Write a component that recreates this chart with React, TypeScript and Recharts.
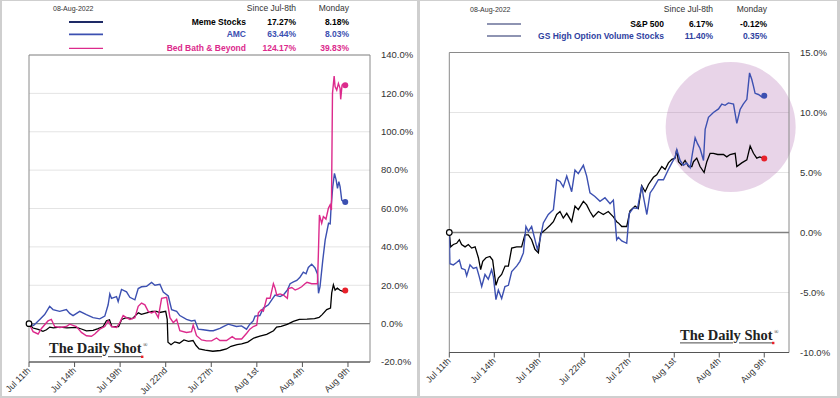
import React from "react";
import {
  LineChart,
  Line,
  XAxis,
  YAxis,
  CartesianGrid,
  ReferenceLine,
  ReferenceDot,
  ReferenceArea,
} from "recharts";

// x = trading-day index since Jul 11th (intraday points)
const tickDays = [0, 3, 6, 9, 12, 15, 18, 21];
const tickLabels = ["Jul 11th", "Jul 14th", "Jul 19th", "Jul 22nd", "Jul 27th", "Aug 1st", "Aug 4th", "Aug 9th"];
const leftYTicks = [-20, 0, 20, 40, 60, 80, 100, 120, 140];
const rightYTicks = [-10, -5, 0, 5, 10, 15];

// left panel: % change since Jul-8th
const memeStocks: [number, number][] = [
  [0, 0], [0.26, -2.3], [0.6, -3.0], [0.92, -4.0], [1.15, -3.2], [1.37, -1.8], [1.6, -2.2], [2.03, -1.8],
  [2.5, -2.2], [3.12, -2.0], [3.45, -2.8], [3.78, -3.8], [4.22, -3.5], [4.55, -2.6], [4.88, -1.5], [5.1, 1.5],
  [5.3, 2.0], [5.45, -1.5], [5.9, -1.6], [6.1, 2.2], [6.4, 3.1], [6.8, 2.6], [7.2, 5.6], [7.4, 4.8],
  [7.75, 5.6], [8.1, 6.4], [8.4, 6.4], [8.6, 5.8], [9.0, 6.4], [9.1, 2.2], [9.15, -9.7], [9.35, -11.0],
  [9.6, -9.5], [9.9, -10.2], [10.2, -8.5], [10.5, -9.2], [10.8, -8.8], [11.0, -11.4], [11.2, -13.2],
  [11.6, -13.8], [12.1, -14.4], [12.6, -14.0], [13.0, -13.2], [13.3, -11.8], [13.7, -11.0], [14.0, -10.6],
  [14.4, -9.6], [14.8, -7.5], [15.2, -6.5], [15.65, -5.6], [16.1, -3.7], [16.3, -1.8], [16.6, -1.4],
  [17.0, -0.4], [17.4, 1.2], [17.8, 2.2], [18.3, 2.3], [18.8, 2.6], [19.1, 3.2], [19.3, 4.7], [19.6, 7.3],
  [19.85, 8.1], [19.93, 16.0], [20.04, 20.2], [20.15, 17.5], [20.3, 18.5], [20.48, 17.4], [20.65, 16.8],
  [20.82, 17.27],
];

const amc: [number, number][] = [
  [0, 0], [0.3, -1.0], [0.71, 2.2], [1.03, 4.7], [1.36, 9.0], [1.58, 7.3], [2.02, 6.4], [2.46, 7.3],
  [2.68, 5.3], [2.9, 4.2], [3.34, 6.4], [3.78, 4.7], [4.22, 3.1], [4.66, 2.5], [4.99, 3.9], [5.21, 9.8],
  [5.32, 15.5], [5.43, 13.2], [5.76, 14.1], [5.87, 11.5], [6.09, 17.8], [6.42, 16.6], [6.64, 13.7],
  [6.97, 12.4], [7.19, 18.3], [7.41, 19.2], [7.74, 19.5], [8.07, 21.5], [8.29, 20.0], [8.62, 20.5],
  [8.84, 16.5], [9.17, 14.4], [9.39, 7.3], [9.72, 6.4], [9.93, 4.2], [10.37, 2.2], [10.7, 1.4],
  [10.92, 1.7], [11.14, -2.9], [11.47, -3.2], [11.91, -3.7], [12.13, -3.7], [12.57, -2.5], [12.79, -1.6],
  [13.12, -0.3], [13.34, -0.8], [13.66, -1.5], [13.99, -1.2], [14.32, -2.9], [14.54, -0.3], [14.76, 1.4],
  [14.88, 3.9], [15.2, 4.2], [15.43, 8.1], [15.76, 9.8], [15.98, 12.4], [16.2, 14.9], [16.53, 14.1],
  [16.75, 15.0], [17.01, 17.5], [17.19, 20.8], [17.41, 21.7], [17.63, 22.5], [17.84, 24.2], [18.06, 26.8],
  [18.24, 26.0], [18.39, 29.3], [18.61, 31.0], [18.83, 29.0], [18.99, 25.9], [19.06, 15.8], [19.16, 19.3],
  [19.34, 33.0], [19.5, 43.6], [19.72, 52.3], [19.83, 52.0], [19.89, 61.0], [20.0, 71.4], [20.11, 78.3],
  [20.22, 74.9], [20.31, 70.5], [20.4, 74.0], [20.48, 71.4], [20.59, 64.4], [20.7, 63.6], [20.82, 63.44],
];

const bedBath: [number, number][] = [
  [0, 0], [0.27, -4.2], [0.6, -5.4], [0.82, -2.5], [1.25, 1.4], [1.47, 2.2], [1.69, -1.5], [2.02, -2.0],
  [2.46, -1.5], [2.68, -0.3], [3.12, -1.5], [3.45, -4.6], [3.78, -6.3], [4.11, -6.6], [4.33, -5.4],
  [4.66, -2.9], [4.99, -1.5], [5.21, 1.4], [5.43, -1.5], [5.76, -2.0], [5.98, 0.5], [6.2, 4.2], [6.42, 3.1],
  [6.64, 2.2], [6.97, 3.1], [7.19, 9.0], [7.41, 10.7], [7.63, 9.8], [7.85, 6.4], [8.07, 5.6], [8.29, 6.4],
  [8.51, 3.1], [8.73, 13.2], [9.06, 13.7], [9.28, 3.1], [9.5, 0.5], [9.72, 2.2], [9.93, -3.7], [10.37, -4.6],
  [10.7, -4.2], [10.81, -0.8], [11.03, -6.3], [11.36, -8.5], [11.69, -9.0], [12.02, -9.0], [12.35, -7.5],
  [12.57, -8.8], [13.0, -8.8], [13.38, -6.8], [13.6, -8.0], [14.0, -8.0], [14.33, -5.0], [14.54, -2.9],
  [14.77, -1.5], [14.99, -0.8], [15.1, 5.6], [15.3, 7.3], [15.43, 6.5], [15.65, 13.2], [15.87, 13.2],
  [16.09, 20.8], [16.2, 18.5], [16.31, 14.9], [16.53, 15.5], [16.75, 14.9], [17.01, 13.2], [17.08, 18.3],
  [17.3, 18.8], [17.52, 17.5], [17.74, 18.3], [17.95, 19.2], [18.17, 20.8], [18.3, 21.5], [18.61, 20.8],
  [18.99, 20.8], [19.05, 36.0], [19.12, 56.6], [19.27, 52.3], [19.38, 55.8], [19.55, 54.5], [19.71, 60.1],
  [19.82, 61.8], [19.91, 59.2], [19.98, 120.0], [20.09, 129.0], [20.15, 123.5], [20.26, 121.7],
  [20.37, 125.2], [20.48, 122.6], [20.52, 116.9], [20.61, 124.3], [20.7, 124.9], [20.82, 124.17],
];

// right panel
const sp500: [number, number][] = [
  [0, 0], [0.09, -1.2], [0.27, -1.0], [0.49, -0.9], [0.67, -0.6], [0.82, -1.0], [1.05, -1.2], [1.27, -1.0],
  [1.49, -1.3], [1.72, -1.2], [1.94, -2.1], [2.09, -3.1], [2.23, -2.4], [2.45, -2.1], [2.71, -2.0],
  [2.89, -2.3], [3.11, -4.4], [3.27, -3.8], [3.49, -3.5], [3.72, -2.8], [3.94, -2.8], [4.16, -1.3],
  [4.49, -1.2], [4.82, -1.2], [5.04, -0.2], [5.27, -0.2], [5.49, -0.6], [5.71, -1.4], [5.94, -1.7],
  [6.09, -0.1], [6.38, 0.2], [6.72, 0.6], [6.94, 0.9], [7.16, 1.5], [7.38, 1.75], [7.6, 1.2], [7.83, 1.6],
  [8.16, 0.9], [8.38, 2.2], [8.6, 1.9], [8.94, 2.6], [9.16, 2.3], [9.38, 1.75], [9.6, 1.3], [9.94, 1.75],
  [10.27, 1.5], [10.6, 1.75], [10.94, 1.3], [11.16, 0.9], [11.27, 0.8], [11.5, 0.5], [11.83, 0.5],
  [12.05, 1.8], [12.39, 2.2], [12.6, 2.0], [12.83, 3.9], [13.06, 3.4], [13.28, 4.0], [13.61, 4.6],
  [13.83, 4.8], [14.17, 5.5], [14.39, 5.25], [14.61, 5.8], [14.84, 6.1], [15.06, 6.2], [15.16, 6.9],
  [15.28, 5.9], [15.5, 5.6], [15.72, 6.0], [15.95, 5.5], [16.17, 5.5], [16.28, 5.9], [16.5, 6.2],
  [16.72, 5.5], [16.99, 5.0], [17.17, 5.9], [17.39, 6.6], [17.61, 6.6], [17.9, 6.5], [18.28, 6.5],
  [18.5, 6.3], [18.72, 6.5], [19.06, 6.6], [19.17, 5.5], [19.5, 5.8], [19.84, 6.05], [20.06, 7.2],
  [20.28, 6.6], [20.5, 6.2], [20.7, 6.3], [21, 6.17],
];

const gsHighOption: [number, number][] = [
  [0, 0], [0.04, -2.6], [0.27, -2.7], [0.49, -2.5], [0.67, -2.3], [0.82, -3.0], [1.05, -3.1], [1.16, -3.6],
  [1.38, -2.7], [1.6, -3.0], [1.82, -2.9], [2.0, -3.7], [2.16, -4.5], [2.38, -3.5], [2.6, -3.9], [2.82, -3.1],
  [2.94, -3.7], [3.11, -5.6], [3.27, -4.8], [3.49, -5.5], [3.71, -4.5], [3.94, -4.4], [4.16, -3.25],
  [4.49, -2.8], [4.71, -2.4], [4.94, -1.7], [5.11, 0.5], [5.27, 0.1], [5.49, 0.5], [5.71, -0.6],
  [5.87, -1.4], [6.05, -0.6], [6.27, 0.8], [6.6, 1.5], [6.94, 1.9], [7.16, 4.4], [7.38, 4.25], [7.6, 3.8],
  [7.83, 4.7], [8.16, 3.4], [8.38, 5.2], [8.6, 4.9], [8.94, 5.6], [9.16, 4.7], [9.38, 3.3], [9.71, 3.0],
  [10.05, 2.6], [10.38, 2.9], [10.72, 2.4], [10.94, 2.7], [11.16, -0.6], [11.27, -0.4], [11.5, -0.7],
  [11.83, -0.9], [12.0, 1.6], [12.28, 2.05], [12.55, 2.0], [12.83, 3.9], [12.94, 3.0], [13.17, 1.5],
  [13.39, 3.3], [13.61, 3.7], [13.94, 4.4], [14.28, 4.4], [14.61, 5.25], [14.84, 5.8], [15.06, 6.3],
  [15.17, 6.9], [15.39, 6.0], [15.61, 5.6], [15.83, 5.8], [16.06, 5.4], [16.2, 6.5], [16.39, 7.9],
  [16.55, 7.4], [16.72, 7.0], [16.95, 6.0], [17.06, 8.6], [17.28, 9.6], [17.61, 10.0], [17.95, 10.3],
  [18.17, 10.7], [18.39, 10.6], [18.61, 10.8], [18.95, 10.7], [19.17, 9.1], [19.39, 10.25], [19.6, 10.7],
  [19.84, 11.1], [20.02, 13.3], [20.17, 12.75], [20.28, 12.2], [20.39, 11.6], [20.61, 11.5], [20.84, 11.3],
  [21, 11.4],
];

// legend tables
const leftLegend = [
  { name: "Meme Stocks", since: "17.27%", monday: "8.18%", text: "#000000", line: "#1e2a66", w: 2 },
  { name: "AMC", since: "63.44%", monday: "8.03%", text: "#3c50b1", line: "#3c50b1", w: 1.8 },
  { name: "Bed Bath & Beyond", since: "124.17%", monday: "39.83%", text: "#dc2a8c", line: "#dc2a8c", w: 1.2 },
];
const rightLegend = [
  { name: "S&P 500", since: "6.17%", monday: "-0.12%", text: "#000000", line: "#1e2a66", w: 1.1 },
  { name: "GS High Option Volume Stocks", since: "11.40%", monday: "0.35%", text: "#2f3f9f", line: "#1e2a66", w: 1.1 },
];

const BLUE = "#3c50b1";
const MAGENTA = "#dc2a8c";
const RED = "#e8212b";
const FONT = "'Liberation Sans', Arial, sans-serif";

const toRows = (s: [number, number][]) => s.map(([t, v]) => ({ t, v }));
const last = (s: [number, number][]) => s[s.length - 1];
const pct = (v: number) => `${v.toFixed(1)}%`;
const dayLabel = (d: number) => tickLabels[tickDays.indexOf(d)] ?? "";

const DateTick = (props: any) => {
  const { x, y, payload } = props;
  return (
    <text
      x={x}
      y={y}
      dy="0.32em"
      transform={`rotate(-45 ${x} ${y})`}
      textAnchor="end"
      fontSize={9}
      fontFamily={FONT}
      fill="#333"
    >
      {dayLabel(payload.value)}
    </text>
  );
};

const yTickStyle = { fontSize: 9.5, fill: "#333", fontFamily: FONT };

const LeftChart = () => {
  const m = last(memeStocks);
  const a = last(amc);
  const b = last(bedBath);
  return (
    <LineChart width={420} height={398} margin={{ top: 55, right: 0, left: 29, bottom: 0 }}>
      <CartesianGrid vertical={false} stroke="#e4e4e4" />
      <XAxis
        type="number"
        dataKey="t"
        domain={[0, 22.45]}
        ticks={tickDays}
        interval={0}
        height={36}
        tickSize={5}
        tickMargin={2}
        stroke="#555"
        tick={(p: any) => <DateTick {...p} />}
        allowDataOverflow
      />
      <YAxis
        type="number"
        orientation="right"
        domain={[-20, 140]}
        ticks={leftYTicks}
        interval={0}
        width={50}
        axisLine={false}
        tickLine={false}
        tickSize={0}
        tickMargin={11}
        tickFormatter={pct}
        tick={yTickStyle}
      />
      <ReferenceArea x1={0} x2={22.45} y1={-20} y2={140} fill="none" stroke="#8a8a8a" />
      <ReferenceLine y={0} stroke="#808080" strokeWidth={1.3} />
      <Line data={toRows(memeStocks)} dataKey="v" stroke="#000" strokeWidth={1.3} dot={false} isAnimationActive={false} />
      <Line data={toRows(amc)} dataKey="v" stroke={BLUE} strokeWidth={1.4} dot={false} isAnimationActive={false} />
      <Line data={toRows(bedBath)} dataKey="v" stroke={MAGENTA} strokeWidth={1.4} dot={false} isAnimationActive={false} />
      <ReferenceDot x={0} y={0} r={2.8} fill="#fff" stroke="#000" strokeWidth={1.2} />
      <ReferenceDot x={m[0]} y={m[1]} r={3} fill={RED} stroke="none" />
      <ReferenceDot x={a[0]} y={a[1]} r={3} fill={BLUE} stroke="none" />
      <ReferenceDot x={b[0]} y={b[1]} r={3} fill={MAGENTA} stroke="none" />
    </LineChart>
  );
};

const RightChart = () => {
  const s = last(sp500);
  const g = last(gsHighOption);
  return (
    <LineChart width={420} height={398} margin={{ top: 52.5, right: 0, left: 29.3, bottom: 0 }}>
      <CartesianGrid vertical={false} stroke="#e4e4e4" />
      <XAxis
        type="number"
        dataKey="t"
        domain={[0, 22.65]}
        ticks={tickDays}
        interval={0}
        height={45.5}
        tickSize={5}
        tickMargin={2}
        stroke="#555"
        tick={(p: any) => <DateTick {...p} />}
        allowDataOverflow
      />
      <YAxis
        type="number"
        orientation="right"
        domain={[-10, 15]}
        ticks={rightYTicks}
        interval={0}
        width={51}
        axisLine={false}
        tickLine={false}
        tickSize={0}
        tickMargin={11}
        tickFormatter={pct}
        tick={yTickStyle}
      />
      <ReferenceDot
        x={18.76}
        y={8.8}
        r={65}
        fill="rgb(163,83,163)"
        fillOpacity={0.25}
        stroke="none"
        ifOverflow="visible"
        zIndex={50}
      />
      <ReferenceArea x1={0} x2={22.65} y1={-10} y2={15} fill="none" stroke="#8a8a8a" />
      <ReferenceLine y={0} stroke="#808080" strokeWidth={1.3} />
      <Line data={toRows(sp500)} dataKey="v" stroke="#000" strokeWidth={1.3} dot={false} isAnimationActive={false} />
      <Line data={toRows(gsHighOption)} dataKey="v" stroke={BLUE} strokeWidth={1.4} dot={false} isAnimationActive={false} />
      <ReferenceDot x={0} y={0} r={2.8} fill="#fff" stroke="#000" strokeWidth={1.2} />
      <ReferenceDot x={g[0]} y={g[1]} r={3} fill={BLUE} stroke="none" />
      <ReferenceDot x={s[0]} y={s[1]} r={3} fill={RED} stroke="none" />
    </LineChart>
  );
};

// legend block + watermark, drawn over the charts
const Legend = ({ rows, ox, date, rowY, lineX, nameX, sinceX, mondayX, headY }: any) => (
  <g fontFamily={FONT}>
    <text x={ox} y={headY} fontSize={7} fill="#333" dominantBaseline="central">{date}</text>
    <text x={sinceX} y={headY} fontSize={8.5} fill="#333" textAnchor="end" dominantBaseline="central">Since Jul-8th</text>
    <text x={mondayX} y={headY} fontSize={8.5} fill="#333" textAnchor="end" dominantBaseline="central">Monday</text>
    {rows.map((r: any, i: number) => (
      <g key={r.name}>
        <line x1={lineX[0]} x2={lineX[1]} y1={rowY[i]} y2={rowY[i]} stroke={r.line} strokeWidth={r.w} />
        <text x={nameX} y={rowY[i]} fontSize={8.5} fontWeight="bold" fill={r.text} textAnchor="end" dominantBaseline="central">{r.name}</text>
        <text x={sinceX} y={rowY[i]} fontSize={8.5} fontWeight="bold" fill={r.text} textAnchor="end" dominantBaseline="central">{r.since}</text>
        <text x={mondayX} y={rowY[i]} fontSize={8.5} fontWeight="bold" fill={r.text} textAnchor="end" dominantBaseline="central">{r.monday}</text>
      </g>
    ))}
  </g>
);

const Watermark = ({ x, y }: { x: number; y: number }) => (
  <g>
    <text x={x} y={y} fontFamily="'Liberation Serif', 'DejaVu Serif', serif" fontWeight="bold" fontSize={14.5} fill="#222">
      The Daily Shot
    </text>
    <text x={x + 94} y={y - 6} fontFamily="'Liberation Serif', serif" fontSize={6} fill="#222">®</text>
    <line x1={x} x2={x + 53} y1={y + 3.4} y2={y + 3.4} stroke="#333" strokeWidth={0.9} />
    <line x1={x + 59} x2={x + 93} y1={y + 3.4} y2={y + 3.4} stroke="#333" strokeWidth={0.9} />
    <rect x={x + 92} y={y + 2.3} width={2.4} height={2.4} fill={RED} />
  </g>
);

export default function App() {
  return (
    <div style={{ position: "absolute", left: 0, top: 0, width: 840, height: 398, background: "#fff", overflow: "hidden" }}>
      <div style={{ position: "absolute", left: 0, top: 0 }}>
        <LeftChart />
      </div>
      <div style={{ position: "absolute", left: 420, top: 0 }}>
        <RightChart />
      </div>
      <svg width={840} height={398} style={{ position: "absolute", left: 0, top: 0, pointerEvents: "none" }}>
        <Legend
          rows={leftLegend}
          ox={53}
          date="08-Aug-2022"
          headY={8}
          rowY={[22, 34.3, 48.3]}
          lineX={[69, 103]}
          nameX={246}
          sinceX={296}
          mondayX={349}
        />
        <Legend
          rows={rightLegend}
          ox={470}
          date="08-Aug-2022"
          headY={9}
          rowY={[24, 36]}
          lineX={[487, 521]}
          nameX={664}
          sinceX={713}
          mondayX={767}
        />
        <Watermark x={49} y={353.3} />
        <Watermark x={680} y={339.5} />
        <rect x={0} y={0} width={840} height={1} fill="#cfcfcf" />
        <rect x={0} y={396} width={840} height={2} fill="#cfcfcf" />
        <rect x={0} y={0} width={2} height={398} fill="#cfcfcf" />
        <rect x={837} y={0} width={3} height={398} fill="#cfcfcf" />
        <rect x={417} y={0} width={3} height={398} fill="#cfcfcf" />
      </svg>
    </div>
  );
}
